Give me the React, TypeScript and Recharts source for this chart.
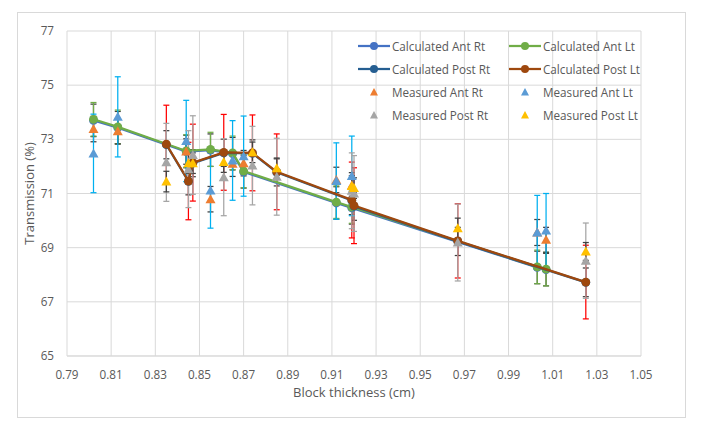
import React from "react";
import {
  CartesianGrid,
  ErrorBar,
  Legend,
  Scatter,
  ScatterChart,
  XAxis,
  YAxis,
} from "recharts";

// block thickness (cm) of the anterior and posterior samples
const antThickness = [0.802, 0.813, 0.844, 0.855, 0.865, 0.87, 0.912, 0.919, 1.003, 1.007];
const postThickness = [0.835, 0.845, 0.847, 0.861, 0.874, 0.885, 0.919, 0.92, 0.967, 1.025];

// transmission (%)
const calcAntRt = [73.7, 73.43, 72.55, 72.6, 72.47, 71.8, 70.65, 70.47, 68.27, 68.19];
const calcAntLt = [73.74, 73.46, 72.57, 72.63, 72.5, 71.83, 70.68, 70.5, 68.29, 68.21];
const calcPostRt = [72.8, 71.45, 72.12, 72.5, 72.48, 71.78, 70.74, 70.53, 69.23, 67.72];
const calcPostLt = [72.82, 71.46, 72.14, 72.52, 72.5, 71.8, 70.76, 70.55, 69.25, 67.73];
const measAntRt = [73.38, 73.3, 72.55, 70.79, 72.1, 72.12, 71.5, 71.3, 69.56, 69.29];
const measAntLt = [72.48, 73.83, 72.94, 71.11, 72.22, 72.38, 71.46, 71.65, 69.56, 69.63];
const measPostRt = [72.15, 71.9, 72.42, 71.6, 72.03, 71.62, 71.1, 71.0, 69.19, 68.52];
const measPostLt = [71.44, 72.12, 72.12, 72.16, 72.52, 71.93, 71.28, 71.2, 69.72, 68.86];

// error bar half ranges
const calcAntRtErr = [0.6, 0.6, 0.6, 0.6, 0.6, 0.6, 0.6, 0.6, 0.6, 0.6];
const calcAntLtErr = [0.62, 0.62, 0.6, 0.63, 0.62, 0.62, 0.6, 0.6, 0.62, 0.62];
const calcPostRtErr = [0.52, 0.5, 0.5, 0.5, 0.5, 0.5, 0.52, 0.52, 0.52, 0.53];
const calcPostLtErr = [1.44, 1.43, 1.42, 1.4, 1.4, 1.4, 1.4, 1.4, 1.37, 1.36];
const measAntRtErr = [0.47, 0.47, 0.47, 0.47, 0.47, 0.47, 0.47, 0.47, 0.48, 0.46];
const measAntLtErr = [1.45, 1.48, 1.5, 1.39, 1.47, 1.48, 1.41, 1.47, 1.37, 1.37];
const measPostRtErr = [1.44, 1.42, 1.45, 1.42, 1.45, 1.42, 1.4, 1.4, 1.42, 1.39];
const measPostLtErr = [0.38, 0.38, 0.38, 0.38, 0.38, 0.38, 0.38, 0.38, 0.37, 0.33];

const xTicks = [0.79, 0.81, 0.83, 0.85, 0.87, 0.89, 0.91, 0.93, 0.95, 0.97, 0.99, 1.01, 1.03, 1.05];
const yTicks = [65, 67, 69, 71, 73, 75, 77];

const toPoints = (xs: number[], ys: number[], errs: number[]) =>
  xs.map((x, i) => ({ x, y: ys[i], err: errs[i] }));

const series = [
  { name: "Calculated Ant Rt", kind: "calc", color: "#4472C4", bar: "#404040", data: toPoints(antThickness, calcAntRt, calcAntRtErr) },
  { name: "Calculated Ant Lt", kind: "calc", color: "#70AD47", bar: "#70AD47", data: toPoints(antThickness, calcAntLt, calcAntLtErr) },
  { name: "Calculated Post Rt", kind: "calc", color: "#255E91", bar: "#404040", data: toPoints(postThickness, calcPostRt, calcPostRtErr) },
  { name: "Calculated Post Lt", kind: "calc", color: "#9E480E", bar: "#FF0000", data: toPoints(postThickness, calcPostLt, calcPostLtErr) },
  { name: "Measured Ant Rt", kind: "meas", color: "#ED7D31", bar: "#404040", data: toPoints(antThickness, measAntRt, measAntRtErr) },
  { name: "Measured Ant Lt", kind: "meas", color: "#5B9BD5", bar: "#00B0F0", data: toPoints(antThickness, measAntLt, measAntLtErr) },
  { name: "Measured Post Rt", kind: "meas", color: "#A5A5A5", bar: "#A5A5A5", data: toPoints(postThickness, measPostRt, measPostRtErr) },
  { name: "Measured Post Lt", kind: "meas", color: "#FFC000", bar: "#404040", data: toPoints(postThickness, measPostLt, measPostLtErr) },
];

const FONT = "'Open Sans', sans-serif";
const TEXT = "#595959";

const circleShape = (color: string) => (props: any) =>
  <circle cx={props.cx} cy={props.cy} r={4.4} fill={color} />;

const triangleShape = (color: string) => (props: any) => {
  const { cx, cy } = props;
  return (
    <polygon
      points={`${cx},${cy - 5} ${cx - 5},${cy + 4} ${cx + 5},${cy + 4}`}
      fill={color}
    />
  );
};

function LegendIcon({ kind, color }: { kind: string; color: string }) {
  return (
    <svg width={32} height={12} style={{ display: "block" }}>
      {kind === "calc" ? (
        <>
          <line x1={0} y1={6} x2={32} y2={6} stroke={color} strokeWidth={2.25} />
          <circle cx={16} cy={6} r={4} fill={color} />
        </>
      ) : (
        <polygon points="16,2 12,9.5 20,9.5" fill={color} />
      )}
    </svg>
  );
}

const renderLegend = () => (
  <div
    style={{
      display: "grid",
      gridTemplateColumns: "151px 151px",
      gridAutoRows: "23px",
      fontFamily: FONT,
      fontSize: 11.7,
      color: TEXT,
    }}
  >
    {series.map((s) => (
      <div key={s.name} style={{ display: "flex", alignItems: "center", gap: 2 }}>
        <LegendIcon kind={s.kind} color={s.color} />
        <span style={{ whiteSpace: "nowrap" }}>{s.name}</span>
      </div>
    ))}
  </div>
);

export default function App() {
  return (
    <div
      style={{
        position: "absolute",
        left: 17,
        top: 12,
        width: 667,
        height: 404,
        border: "1px solid #d9d9d9",
        background: "#fff",
      }}
    >
      <ScatterChart width={667} height={404} margin={{ top: 18, right: 44, bottom: 31, left: 9 }}>
        <CartesianGrid stroke="#d9d9d9" />
        <XAxis
          type="number"
          dataKey="x"
          domain={[0.79, 1.05]}
          ticks={xTicks}
          allowDataOverflow
          tickFormatter={(v: number) => v.toFixed(2)}
          axisLine={{ stroke: "#d9d9d9" }}
          tickLine={false}
          tickSize={0}
          tickMargin={15}
          height={30}
          tick={{ fill: TEXT, fontSize: 11.7, fontFamily: FONT }}
          label={{
            value: "Block thickness (cm)",
            position: "bottom",
            offset: 2,
            fill: TEXT,
            fontSize: 13,
            fontFamily: FONT,
          }}
        />
        <YAxis
          type="number"
          dataKey="y"
          domain={[65, 77]}
          ticks={yTicks}
          allowDataOverflow
          axisLine={false}
          tickLine={false}
          tickSize={0}
          tickMargin={13}
          width={40}
          tick={{ fill: TEXT, fontSize: 11.7, fontFamily: FONT }}
          label={{
            content: (props: any) => {
              const vb = props.viewBox || { x: 9, y: 18, width: 40, height: 325 };
              const cy = vb.y + vb.height / 2;
              return (
                <text
                  x={11}
                  y={cy}
                  transform={`rotate(-90, 11, ${cy})`}
                  textAnchor="middle"
                  dominantBaseline="central"
                  fill={TEXT}
                  fontSize={13}
                  fontFamily={FONT}
                >
                  Transmission (%)
                </text>
              );
            },
          }}
        />
        <Legend
          layout="vertical"
          align="center"
          verticalAlign="middle"
          content={renderLegend}
          wrapperStyle={{ left: 340, top: 21, width: 310, bottom: "auto" }}
        />
        {series.map((s) => (
          <Scatter
            key={s.name}
            name={s.name}
            data={s.data}
            fill={s.color}
            isAnimationActive={false}
            line={s.kind === "calc" ? { stroke: s.color, strokeWidth: 2.25 } : false}
            lineType="joint"
            shape={s.kind === "calc" ? circleShape(s.color) : triangleShape(s.color)}
          >
            <ErrorBar
              dataKey="err"
              direction="y"
              width={3}
              stroke={s.bar}
              strokeWidth={1.25}
              isAnimationActive={false}
            />
          </Scatter>
        ))}
      </ScatterChart>
    </div>
  );
}
